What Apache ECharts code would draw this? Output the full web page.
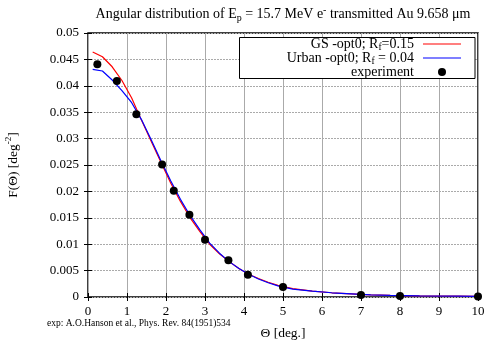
<!DOCTYPE html>
<html>
<head>
<meta charset="utf-8">
<script src="https://cdn.jsdelivr.net/npm/echarts@6/dist/echarts.min.js"></script>
<style>
  html, body { margin: 0; padding: 0; background: #fff; }
  #chart { width: 489px; height: 341px; }
</style>
</head>
<body>
<div id="chart"></div>
<script>
// Angle grid of the calculated distributions [deg]
const thetaCalc = [0.12, 0.37, 0.62, 0.87, 1.12, 1.37, 1.62, 1.87, 2.12, 2.37, 2.62, 2.87,
  3.12, 3.37, 3.62, 3.87, 4.12, 4.37, 4.62, 4.87, 5.25, 5.75, 6.25, 6.75, 7.25, 7.75,
  8.5, 9.5, 10];
// GS multiple scattering model, opt0, Rf = 0.15
const gsValues = [0.0464, 0.0455, 0.0436, 0.0410, 0.0377, 0.0335, 0.0295, 0.0255, 0.0216,
  0.0181, 0.0150, 0.0124, 0.0100, 0.0082, 0.0067, 0.0054, 0.0043, 0.0035, 0.0028, 0.0022,
  0.0016, 0.0011, 0.0008, 0.0006, 0.0004, 0.0003, 0.0002, 0.00015, 0.0001];
// Urban multiple scattering model, opt0, Rf = 0.04
const urbanValues = [0.0431, 0.0428, 0.0411, 0.0391, 0.0368, 0.0336, 0.0298, 0.0258, 0.0220,
  0.0185, 0.0154, 0.0127, 0.0102, 0.0083, 0.0067, 0.0054, 0.0043, 0.0034, 0.0027, 0.0021,
  0.0015, 0.0011, 0.0008, 0.0006, 0.0004, 0.0003, 0.0002, 0.00015, 0.0001];
// Measured distribution (Hanson et al. 1951)
const thetaExp = [0.24, 0.74, 1.24, 1.9, 2.2, 2.6, 3.0, 3.6, 4.1, 5.0, 7.0, 8.0, 10.0];
const expValues = [0.0441, 0.0409, 0.0346, 0.0251, 0.0201, 0.0156, 0.01085, 0.00695, 0.0042,
  0.0019, 0.0004, 0.0002, 0.0001];

const xTicks = [0, 1, 2, 3, 4, 5, 6, 7, 8, 9, 10];
const yTicks = [0, 0.005, 0.01, 0.015, 0.02, 0.025, 0.03, 0.035, 0.04, 0.045, 0.05];

// Key entries: label (rich text), line colour or marker
const keyLabels = ['{n|GS -opt0; R}{s|f}{n|=0.15}', '{n|Urban -opt0; R}{s|f}{n| = 0.04}', '{n|experiment}'];
const keyColors = ['#ff0000', '#0000ff', '#000000'];

const serif = '"Liberation Serif", "DejaVu Serif", serif';
const pair = (xs, ys) => xs.map((x, i) => [x, ys[i]]);

const chart = echarts.init(document.getElementById('chart'), null, { renderer: 'canvas' });

const keyRich = {
  n: { fontFamily: serif, fontSize: 14, fontWeight: 'normal', fill: '#000', lineHeight: 16, verticalAlign: 'middle' },
  s: { fontFamily: serif, fontSize: 9.5, fontWeight: 'normal', fill: '#000', lineHeight: 8, verticalAlign: 'bottom' }
};

const baseXAxis = {
  type: 'value', min: xTicks[0], max: xTicks[xTicks.length - 1], interval: 1,
  axisLine: { show: false },
  axisTick: { show: true, inside: true, length: 4, lineStyle: { color: '#000', width: 1 } },
  splitLine: { show: false }
};
const baseYAxis = {
  type: 'value', min: yTicks[0], max: yTicks[yTicks.length - 1], interval: 0.005,
  axisLine: { show: false },
  axisTick: { show: true, inside: true, length: 4, lineStyle: { color: '#000', width: 1 } },
  splitLine: { show: false }
};

// Key box in the upper right corner of the plot
const keyBox = { x: 239.5, y: 37.5, w: 235.5, h: 41, textRight: 414, lineX0: 423, lineX1: 461, rowY: [44, 58, 72] };
const keyGraphics = [
  {
    type: 'rect', z: 10,
    shape: { x: keyBox.x, y: keyBox.y, width: keyBox.w, height: keyBox.h },
    style: { fill: '#fff', stroke: '#000', lineWidth: 1 }
  }
];
keyLabels.forEach((label, i) => {
  keyGraphics.push({
    type: 'text', z: 11, x: keyBox.textRight, y: keyBox.rowY[i],
    style: { text: label, rich: keyRich, align: 'right', verticalAlign: 'middle' }
  });
  if (i < 2) {
    keyGraphics.push({
      type: 'line', z: 11,
      shape: { x1: keyBox.lineX0, y1: keyBox.rowY[i], x2: keyBox.lineX1, y2: keyBox.rowY[i] },
      style: { stroke: keyColors[i], lineWidth: 1.2 }
    });
  } else {
    keyGraphics.push({
      type: 'circle', z: 11,
      shape: { cx: (keyBox.lineX0 + keyBox.lineX1) / 2, cy: keyBox.rowY[i], r: 4 },
      style: { fill: keyColors[i] }
    });
  }
});

chart.setOption({
  backgroundColor: '#fff',
  animation: false,
  title: {
    text: '{n|Angular distribution of E}{s|p}{n| = 15.7 MeV e}{u|-}{n| transmitted Au 9.658 μm}',
    left: 278, top: 0, textAlign: 'center',
    textStyle: {
      fontWeight: 'normal',
      rich: {
        n: { fontFamily: serif, fontSize: 14, fontWeight: 'normal', color: '#000', lineHeight: 18, verticalAlign: 'middle' },
        s: { fontFamily: serif, fontSize: 10, fontWeight: 'normal', color: '#000', lineHeight: 9, verticalAlign: 'bottom' },
        u: { fontFamily: serif, fontSize: 10, fontWeight: 'normal', color: '#000', lineHeight: 9, verticalAlign: 'top' }
      }
    }
  },
  grid: {
    left: 88, right: 11, top: 33, bottom: 44,
    outerBoundsMode: 'none', containLabel: false,
    show: true, borderColor: '#000', borderWidth: 1.5, backgroundColor: 'transparent'
  },
  xAxis: [
    Object.assign({}, baseXAxis, {
      position: 'bottom',
      name: 'Θ [deg.]', nameLocation: 'middle', nameGap: 29, nameMoveOverlap: false,
      nameTextStyle: { fontFamily: serif, fontSize: 13.5, color: '#000' },
      axisLabel: { show: true, margin: 8, fontFamily: serif, fontSize: 13, color: '#000' },
      splitLine: { show: true, lineStyle: { color: '#aaa', width: 1, type: 'solid' } }
    }),
    Object.assign({}, baseXAxis, { position: 'top', axisLabel: { show: false } })
  ],
  yAxis: [
    Object.assign({}, baseYAxis, {
      position: 'left',
      name: '{n|F(Θ) [deg}{u|-2}{n|]}', nameLocation: 'middle', nameGap: 66, nameRotate: 90,
      nameMoveOverlap: false,
      nameTextStyle: {
        rich: {
          n: { fontFamily: serif, fontSize: 13.5, color: '#000', lineHeight: 18, verticalAlign: 'middle' },
          u: { fontFamily: serif, fontSize: 9, color: '#000', lineHeight: 9, verticalAlign: 'top' }
        }
      },
      axisLabel: { show: true, margin: 9, fontFamily: serif, fontSize: 13, color: '#000' },
      splitLine: { show: true, lineStyle: { color: '#aaa', width: 1, type: [2, 1] } }
    }),
    Object.assign({}, baseYAxis, { position: 'right', axisLabel: { show: false } })
  ],
  series: [
    {
      name: 'GS', type: 'line', data: pair(thetaCalc, gsValues),
      symbol: 'none', lineStyle: { color: '#ff0000', width: 1.2 }, itemStyle: { color: '#ff0000' },
      z: 3
    },
    {
      name: 'Urban', type: 'line', data: pair(thetaCalc, urbanValues),
      symbol: 'none', lineStyle: { color: '#0000ff', width: 1.2 }, itemStyle: { color: '#0000ff' },
      z: 4
    },
    {
      name: 'experiment', type: 'scatter', data: pair(thetaExp, expValues),
      symbol: 'circle', symbolSize: 8, itemStyle: { color: '#000', opacity: 1, borderWidth: 0 },
      z: 5
    }
  ],
  graphic: keyGraphics.concat([
    {
      type: 'text', x: 47, y: 318,
      style: {
        text: 'exp: A.O.Hanson et al., Phys. Rev. 84(1951)534',
        font: '9.5px ' + serif, fill: '#000'
      }
    }
  ])
});
</script>
</body>
</html>
